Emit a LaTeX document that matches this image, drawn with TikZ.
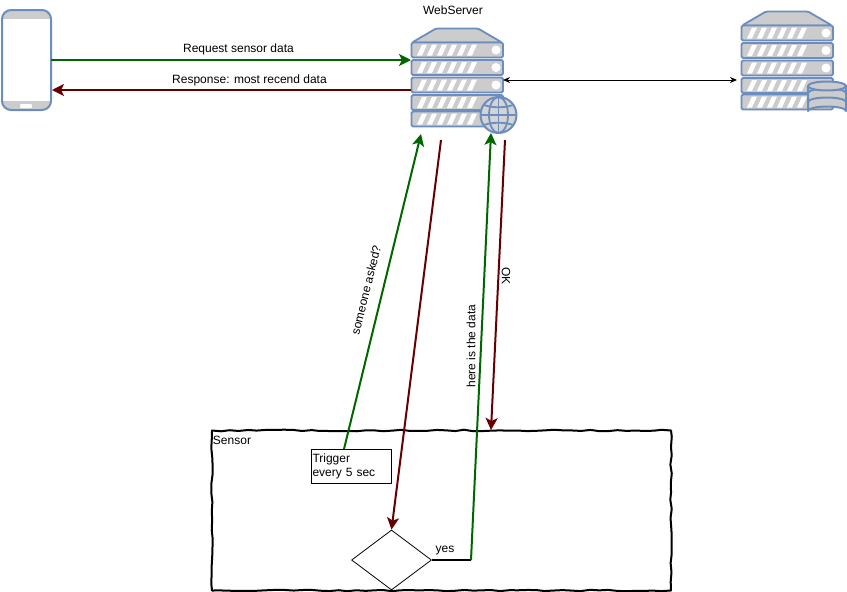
\documentclass[tikz,border=0pt]{standalone}
\usepackage{fontspec}
\setmainfont{Liberation Sans}
\usetikzlibrary{arrows.meta,positioning,shapes.geometric,decorations.pathmorphing}
\definecolor{slabfill}{HTML}{CCCCCC}
\definecolor{slabline}{HTML}{6C8EBF}
\definecolor{okgreen}{HTML}{006600}
\definecolor{nored}{HTML}{660000}
\tikzset{
	lbl/.style={font=\fontsize{12}{14}\selectfont,inner sep=0pt},
	greenline/.style={draw=okgreen,line width=2pt,-{Stealth[length=12pt,width=12pt,inset=3pt]}},
	redline/.style={draw=nored,line width=2pt,-{Stealth[length=12pt,width=12pt,inset=3pt]}},
	slab/.style={draw=slabline,fill=slabfill,line width=1.8pt,rounded corners=1.5pt},
	serverstack/.pic={
		\draw[slab,line join=round] (1,0.5)--(25,-13.5)--(67,-13.5)--(91,0.5)--cycle;
		\foreach \ys in {0.5,18,35.5,53,69.5}{
			\draw[slab] (0.5,\ys) rectangle (92,\ys+15);
			\foreach \xs in {6,16,...,56}
				\fill[white] (\xs,\ys+13)--(\xs+5,\ys+13)--(\xs+10,\ys+2)--(\xs+5,\ys+2)--cycle;
			\fill[white] (85,\ys+7.5) circle (4.5);
		}
	}
}
\begin{document}
\begin{tikzpicture}[x=1pt,y=-1pt,line join = round]
	\useasboundingbox (0,0) rectangle (847,592);
	% phone
	\node[minimum width=49pt,minimum height=100pt,inner sep=0pt] (phone) at (26.5,60) {};
	\begin{scope}
		\clip[rounded corners=9pt] (2,10) rectangle (51,110);
		\fill[slabfill] (2,10) rectangle (51,19);
		\fill[slabfill] (2,101) rectangle (51,110);
	\end{scope}
	\fill[white,rounded corners=1pt] (20,104) rectangle (32,108);
	\draw[slabline,line width=2pt,rounded corners=9pt] (2,10) rectangle (51,110);
	% webserver
	\pic at (411,42) {serverstack};
	\node[minimum width=92pt,minimum height=98pt,inner sep=0pt] (web) at (457,77) {};
	\node[lbl] (webtitle) at (453,10) {WebServer};
	\draw[slabline,fill=slabfill!85,line width=2pt] (498.5,115) circle (18);
	\begin{scope}[slabline,line width=1.8pt]
		\draw (498.5,115) ellipse (9.5 and 18);
		\draw (498.5,97)--(498.5,133);
		\draw (480.5,115)--(516.5,115);
		\draw (484,105) .. controls (492,108) and (505,108) .. (513,105);
		\draw (484,125) .. controls (492,122) and (505,122) .. (513,125);
	\end{scope}
	% database server
	\pic at (741,25) {serverstack};
	\node[minimum width=92pt,minimum height=98pt,inner sep=0pt] (store) at (787,60) {};
	\draw[slabline,fill=slabfill,line width=2pt] (808,86)--(808,111) arc (180:360:19 and 4.5)--(846,86)--cycle;
	\draw[slabline,line width=2pt] (808,93) arc (180:360:19 and 4.5);
	\draw[slabline,line width=2pt] (808,102) arc (180:360:19 and 4.5);
	\draw[slabline,fill=slabfill,line width=2pt] (827,86) ellipse (19 and 4.5);
	% sensor
	\pgfmathsetseed{11}
	\node[draw,line width=2pt,decorate,decoration={random steps,segment length=9pt,amplitude=0.8pt},minimum width=459pt,minimum height=160pt,inner sep=0pt] (sensor) at (441.5,510.5) {};
	\node[lbl] (sensorname) at (232,440) {Sensor};
	\node[draw,inner sep=1pt,minimum width=80pt,minimum height=34pt,align=left,text width=78pt,font=\fontsize{12}{14}\selectfont,line width=0.8pt] (trigger) at (351.5,466) {Trigger\\every 5 sec};
	\node[draw,diamond,aspect=1.333,minimum width=80pt,minimum height=60pt,inner sep=0pt,line width=0.8pt] (check) at (391.5,560) {};
	% connectors
	\coordinate (reqin) at (411,60);
	\coordinate (reqout) at (51,60);
	\coordinate (respin) at (52,90);
	\coordinate (respout) at (411,90);
	\coordinate (linkl) at (503,80);
	\coordinate (linkr) at (737,80);
	\coordinate (askfrom) at (344,449);
	\coordinate (askto) at (421,134);
	\coordinate (pollfrom) at (441,140);
	\coordinate (bend) at (471,560);
	\coordinate (datato) at (491,133);
	\coordinate (okfrom) at (505,140);
	\coordinate (okto) at (491,430);
	\draw[greenline] (reqout)--(reqin);
	\draw[redline] (respout)--(respin);
	\draw[{Stealth[length=7pt,width=6pt]}-{Stealth[length=7pt,width=6pt]},line width=0.8pt] (linkl)--(linkr);
	\draw[greenline] (askfrom)--(askto);
	\draw[redline] (pollfrom)--(check.north);
	\draw[line width=2pt] (check.east)--(bend);
	\draw[greenline] (bend)--(datato);
	\draw[redline] (okfrom)--(okto);
	% labels
	\node[lbl] (reqlabel) at (238.5,49.5) {Request sensor data};
	\node[lbl] (resplabel) at (249.5,80) {Response: most recend data};
	\node[lbl,rotate=76] (asklabel) at (366,290) {someone asked?};
	\node[lbl,rotate=90] (datalabel) at (471,346) {here is the data};
	\node[lbl,rotate=-90] (oklabel) at (506,276) {OK};
	\node[lbl] (yeslabel) at (445,551) {yes};
\end{tikzpicture}
\end{document}
